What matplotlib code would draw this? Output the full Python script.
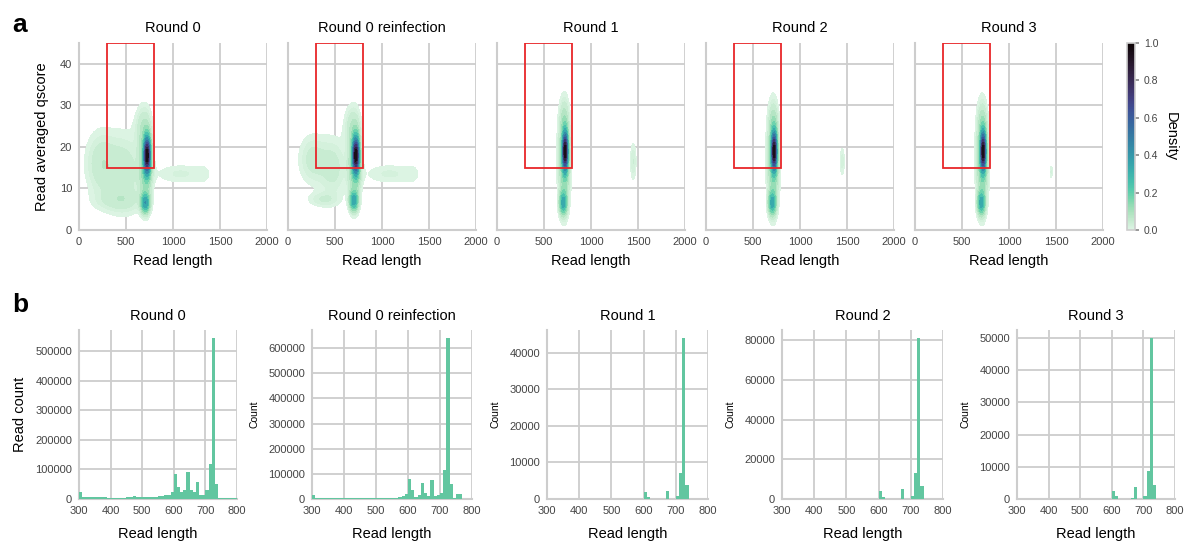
import numpy as np
import matplotlib
matplotlib.use("Agg")
import matplotlib.pyplot as plt
import seaborn as sns
from matplotlib.patches import Rectangle
import matplotlib.colors as mcolors

plt.rcParams['font.family'] = ['Liberation Sans', 'DejaVu Sans']

# ---------------- data ----------------
titles = ["Round 0", "Round 0 reinfection", "Round 1", "Round 2", "Round 3"]

# panel a: density blobs (read length, qscore, spread x, spread y, weight)
kde_r0_x = [725, 710, 705, 680, 230, 480, 420, 1080, 1320]
kde_r0_y = [18, 16, 6.5, 25, 16, 14, 7, 13.5, 13.5]
kde_r0_sx = [22, 45, 28, 60, 110, 130, 180, 190, 60]
kde_r0_sy = [2.8, 6.0, 1.5, 3.5, 5.2, 6.3, 1.8, 1.7, 2.0]
kde_r0_w = [1.0, 0.18, 0.4, 0.06, 0.08, 0.08, 0.05, 0.045, 0.018]

kde_r0re_x = [722, 710, 700, 680, 260, 480, 370, 1080, 1320]
kde_r0re_y = [18, 16, 7.0, 25, 17, 15, 7.3, 13.5, 13.5]
kde_r0re_sx = [22, 45, 28, 60, 100, 100, 110, 190, 60]
kde_r0re_sy = [2.8, 6.0, 1.5, 3.5, 4.0, 5.0, 1.2, 1.7, 2.0]
kde_r0re_w = [1.0, 0.18, 0.38, 0.06, 0.07, 0.07, 0.05, 0.045, 0.018]

kde_r1_x = [725, 715, 705, 715, 1450]
kde_r1_y = [19, 17, 6.5, 27, 16.5]
kde_r1_sx = [18, 40, 25, 32, 22]
kde_r1_sy = [3.0, 7.5, 1.8, 3.0, 3.2]
kde_r1_w = [1.0, 0.2, 0.35, 0.05, 0.06]

kde_r2_x = [725, 715, 705, 715, 1450]
kde_r2_y = [19, 17, 6.5, 26, 16.5]
kde_r2_sx = [18, 40, 25, 32, 18]
kde_r2_sy = [3.0, 7.5, 1.8, 3.0, 2.6]
kde_r2_w = [1.0, 0.2, 0.35, 0.05, 0.05]

kde_r3_x = [725, 715, 705, 715, 1450]
kde_r3_y = [19, 17, 6.5, 26, 14]
kde_r3_sx = [18, 40, 25, 32, 10]
kde_r3_sy = [3.0, 7.5, 1.8, 3.0, 1.2]
kde_r3_w = [1.0, 0.2, 0.35, 0.05, 0.045]

kde_sets = [
    (kde_r0_x, kde_r0_y, kde_r0_sx, kde_r0_sy, kde_r0_w),
    (kde_r0re_x, kde_r0re_y, kde_r0re_sx, kde_r0re_sy, kde_r0re_w),
    (kde_r1_x, kde_r1_y, kde_r1_sx, kde_r1_sy, kde_r1_w),
    (kde_r2_x, kde_r2_y, kde_r2_sx, kde_r2_sy, kde_r2_w),
    (kde_r3_x, kde_r3_y, kde_r3_sx, kde_r3_sy, kde_r3_w),
]

# highlighted window (read length 300-800, qscore >= 15)
box_len = [300, 800]
box_q = [15, 45]

# panel b: histogram counts, bins of 10 from 300 to 800
bin_edges = list(range(300, 810, 10))
hist_r0 = [25000, 7000, 6000, 6000, 6000, 7000, 6000, 6000, 6000, 5000,
           5000, 5000, 5000, 5000, 5000, 6000, 8000, 9000, 8000, 7000,
           6000, 6000, 6000, 7000, 8000, 9000, 11000, 13000, 15000, 25000,
           85000, 42000, 25000, 30000, 91000, 30000, 25000, 56000, 15000, 15000,
           30000, 117000, 545000, 52000, 4000, 3000, 3000, 3000, 2000, 2000]
hist_r0re = [15000, 2000, 2000, 2000, 2000, 2000, 2000, 2000, 2000, 2000,
             2000, 2000, 2000, 2000, 2000, 2000, 2000, 3000, 2000, 2000,
             2000, 2000, 2000, 2000, 2000, 2000, 5000, 7000, 10000, 20000,
             80000, 37000, 8000, 15000, 64000, 25000, 10000, 77000, 12000, 15000,
             25000, 117000, 640000, 60000, 5000, 20000, 20000, 0, 0, 0]
hist_r1 = [0] * 30 + [2000, 500, 0, 0, 0, 0, 0, 2200, 0, 0,
                      800, 7000, 44000, 3800, 0, 0, 0, 0, 0, 0]
hist_r2 = [0] * 30 + [4000, 1000, 0, 0, 0, 0, 0, 5000, 0, 0,
                      1500, 13000, 81000, 6500, 0, 0, 0, 0, 0, 0]
hist_r3 = [0] * 30 + [2600, 800, 0, 0, 0, 0, 300, 3700, 0, 0,
                      800, 8600, 50000, 4300, 0, 0, 0, 0, 0, 0]
hist_sets = [hist_r0, hist_r0re, hist_r1, hist_r2, hist_r3]
hist_ylabels = ["Read count", "Count", "Count", "Count", "Count"]

# ---------------- style ----------------
W, H = 1185, 545
fig = plt.figure(figsize=(W / 100, H / 100), dpi=100)
grid_c = '#cdcdcd'
tick_c = '#444444'
bar_c = '#62c6a0'
cmap = sns.color_palette("mako_r", as_cmap=True)


def px_axes(l, t, r, b):
    return fig.add_axes([l / W, 1 - b / H, (r - l) / W, (b - t) / H])


def style(ax):
    ax.set_facecolor('white')
    for s in ['top', 'right']:
        ax.spines[s].set_visible(False)
    for s in ['left', 'bottom']:
        ax.spines[s].set_color(grid_c)
        ax.spines[s].set_linewidth(1.5)
    ax.grid(True, color=grid_c, linewidth=1.3)
    ax.set_axisbelow(True)
    ax.tick_params(length=0, labelsize=8, labelcolor=tick_c, pad=5)


# ---------------- panel a ----------------
gx = np.linspace(0, 2000, 500)
gy = np.linspace(0, 45, 250)
GX, GY = np.meshgrid(gx, gy)
levels = [0.02, 0.035, 0.05, 0.08, 0.12, 0.17, 0.23, 0.3, 0.4, 0.5,
          0.6, 0.7, 0.8, 0.9, 1.01]

a_lefts = [79, 288, 497, 706, 915]
for i, (kx, ky, ksx, ksy, kw) in enumerate(kde_sets):
    ax = px_axes(a_lefts[i], 43, a_lefts[i] + 188, 230)
    style(ax)
    Z = np.zeros_like(GX)
    for mx, my, sx, sy, w in zip(kx, ky, ksx, ksy, kw):
        Z += w * np.exp(-0.5 * ((GX - mx) / sx) ** 2 - 0.5 * ((GY - my) / sy) ** 2)
    Z /= Z.max()
    ax.contourf(GX, GY, Z, levels=levels, cmap=cmap, zorder=2)
    ax.add_patch(Rectangle((box_len[0], box_q[0]), box_len[1] - box_len[0],
                           box_q[1] - box_q[0], fill=False, edgecolor='#e8262a',
                           linewidth=1.3, zorder=3))
    ax.set_xlim(0, 2000)
    ax.set_ylim(0, 45)
    ax.set_xticks([0, 500, 1000, 1500, 2000])
    ax.set_yticks([0, 10, 20, 30, 40])
    ax.set_title(titles[i], fontsize=10.5, pad=8)
    ax.set_xlabel("Read length", fontsize=10.5, labelpad=5)
    if i == 0:
        ax.set_ylabel("Read averaged qscore", fontsize=10.5, labelpad=8)
    else:
        ax.tick_params(labelleft=False)

# colorbar
cax = px_axes(1127, 43, 1135, 230)
sm = plt.cm.ScalarMappable(cmap=cmap, norm=mcolors.Normalize(0, 1))
cb = fig.colorbar(sm, cax=cax)
cb.outline.set_edgecolor(grid_c)
cb.outline.set_linewidth(1.2)
cb.set_ticks([0, 0.2, 0.4, 0.6, 0.8, 1.0])
cb.ax.tick_params(labelsize=7.5, labelcolor=tick_c, color='#888888', length=3, width=1.2)
cb.set_label("Density", rotation=270, fontsize=10.5, labelpad=14)

# ---------------- panel b ----------------
b_bounds = [(79, 237), (312, 472), (547, 708), (782, 943), (1017, 1175)]
for i, counts in enumerate(hist_sets):
    l, r = b_bounds[i]
    ax = px_axes(l, 330, r, 499)
    style(ax)
    ax.bar(bin_edges[:-1], counts, width=10, align='edge', color=bar_c,
           edgecolor='none', zorder=3)
    ax.set_xlim(300, 800)
    ax.set_xticks([300, 400, 500, 600, 700, 800])
    ax.ticklabel_format(axis='y', style='plain')
    ax.set_title(titles[i], fontsize=10.5, pad=7)
    ax.set_xlabel("Read length", fontsize=10.5, labelpad=8)
    if i == 0:
        ax.set_ylabel(hist_ylabels[i], fontsize=10.5, labelpad=6)
    else:
        ax.set_ylabel(hist_ylabels[i], fontsize=7.5, labelpad=6)

fig.text(12 / W, 1 - 32 / H, "a", fontsize=19, fontweight='bold')
fig.text(12 / W, 1 - 312 / H, "b", fontsize=19, fontweight='bold')

fig.savefig("out.png", dpi=100, facecolor='white')
